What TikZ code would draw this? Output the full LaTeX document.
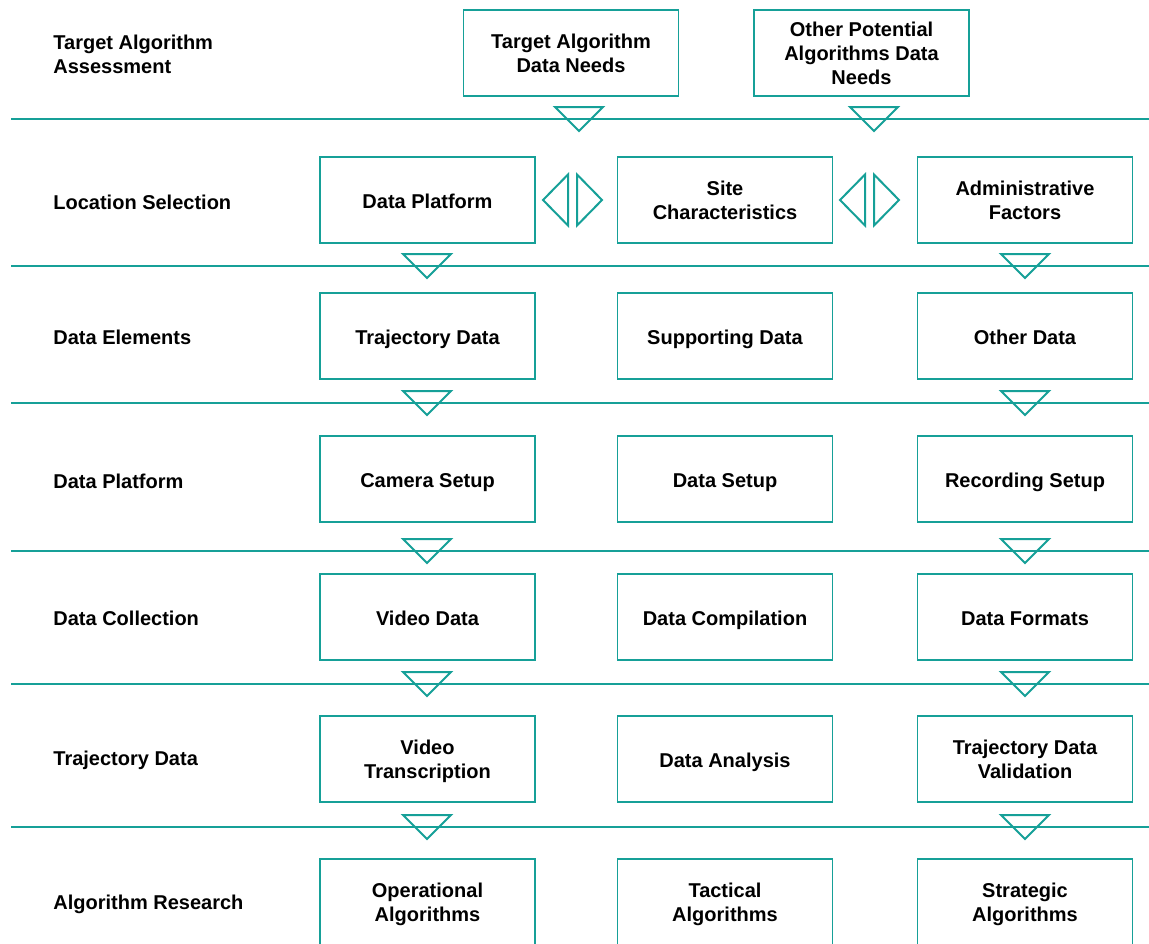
\documentclass[tikz,border=0pt]{standalone}
\usepackage{fontspec}
\setmainfont{Liberation Sans}
\usepackage{tikz}
\usetikzlibrary{positioning}
\usepackage{xcolor}
\definecolor{Teal}{HTML}{16A098}

\begin{document}
\begin{tikzpicture}[x=0.5pt,y=-0.5pt,
  every node/.style={font=\fontsize{10}{12}\selectfont\bfseries,align=center,inner sep=0pt},
  stage/.style={anchor=west,align=left},
  box/.style={draw=Teal,line width=0.75pt,fill=white,
    minimum width=107.5pt,minimum height=43pt,text depth=0pt,
    execute at begin node={\rule{0pt}{8.5pt}}},
  rule/.style={draw=Teal,line width=1pt},
  tri/.style={draw=Teal,line width=1pt,line join=miter},
  downmark/.pic={\draw[tri] (-24,-12) -- (24,-12) -- (0,12) -- cycle;},
  pairmark/.pic={
    \draw[tri] (-4.5,-25.5) -- (-4.5,25.5) -- (-29.5,0) -- cycle;
    \draw[tri] (4.5,-25.5) -- (4.5,25.5) -- (29.5,0) -- cycle;}]
  \clip (0,0) rectangle (1149,943);
  \fill[white] (0,0) rectangle (1149,943);

  % row separators
  \foreach \y in {119,266,403,551,684,827}
    \draw[rule] (11,\y) -- (1149,\y);

  % stage names
  \node[stage] (s0) at (53,54) {Target Algorithm\\Assessment};
  \node[stage] (s1) at (53,202) {Location Selection};
  \node[stage] (s2) at (53,337) {Data Elements};
  \node[stage] (s3) at (53,481) {Data Platform};
  \node[stage] (s4) at (53,618) {Data Collection};
  \node[stage] (s5) at (53,760) {Trajectory Data};
  \node[stage] (s6) at (53,904) {Algorithm Research};

  % assessment
  \node[box] (target) at (571,53) {Target Algorithm\\Data Needs};
  \node[box] (other) at (861.5,53) {Other Potential\\Algorithms Data\\Needs};

  % location selection
  \node[box] (platform) at (427.5,200) {Data Platform};
  \node[box] (site) at (725,200) {Site\\Characteristics};
  \node[box] (admin) at (1025,200) {Administrative\\Factors};

  % data elements
  \node[box] (traj) at (427.5,336) {Trajectory Data};
  \node[box] (support) at (725,336) {Supporting Data};
  \node[box] (otherdata) at (1025,336) {Other Data};

  % data platform
  \node[box] (camera) at (427.5,479) {Camera Setup};
  \node[box] (setup) at (725,479) {Data Setup};
  \node[box] (record) at (1025,479) {Recording Setup};

  % data collection
  \node[box] (video) at (427.5,617) {Video Data};
  \node[box] (compile) at (725,617) {Data Compilation};
  \node[box] (formats) at (1025,617) {Data Formats};

  % trajectory data
  \node[box] (transcr) at (427.5,759) {Video\\Transcription};
  \node[box] (analysis) at (725,759) {Data Analysis};
  \node[box] (valid) at (1025,759) {Trajectory Data\\Validation};

  % algorithm research
  \node[box] (oper) at (427.5,902) {Operational\\Algorithms};
  \node[box] (tact) at (725,902) {Tactical\\Algorithms};
  \node[box] (strat) at (1025,902) {Strategic\\Algorithms};

  % flow marks
  \pic at (579,119) {downmark};
  \pic at (874,119) {downmark};
  \foreach \y in {266,403,551,684,827} {
    \pic at (427,\y) {downmark};
    \pic at (1025,\y) {downmark};
  }
  \pic at (572.5,200) {pairmark};
  \pic at (869.5,200) {pairmark};
\end{tikzpicture}
\end{document}
